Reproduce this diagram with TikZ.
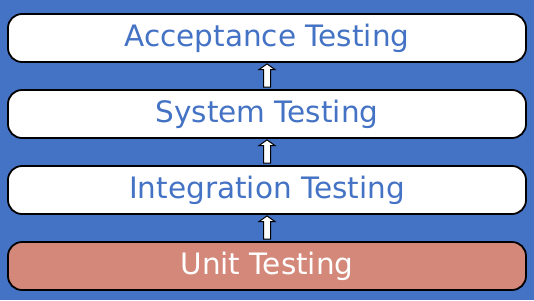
\documentclass[tikz,border=0pt]{standalone}
\usepackage{fontspec}
\setmainfont{DejaVu Sans}
\usetikzlibrary{calc}
\definecolor{bgblue}{HTML}{4472C4}
\definecolor{txtblue}{HTML}{4472C4}
\definecolor{salmon}{HTML}{D4887A}
\tikzset{
  level/.style={draw=black, line width=1.8bp, rounded corners=14bp, fill=white,
    minimum width=518bp, minimum height=48bp, inner sep=0pt,
    font=\fontsize{29.5bp}{35bp}\selectfont, text=txtblue},
  unitlevel/.style={level, fill=salmon, text=white},
}
\newcommand{\uparr}[2]{%
  \draw[fill=white, draw=black, line width=1bp]
    ($(#1.north)+(-3.5bp,2bp)$) -- ($(#1.north)+(-3.5bp,19.5bp)$) -- ($(#1.north)+(-8bp,19.5bp)$)
    -- ($(#2.south)+(0,-1bp)$) -- ($(#1.north)+(8bp,19.5bp)$) -- ($(#1.north)+(3.5bp,19.5bp)$)
    -- ($(#1.north)+(3.5bp,2bp)$) -- cycle;}
\begin{document}
\begin{tikzpicture}[x=1bp,y=-1bp]
\fill[bgblue] (0,0) rectangle (534,300);
\useasboundingbox (0,0) rectangle (534,300);
\node[level] (acc) at (267,38) {Acceptance Testing};
\node[level] (sys) at (267,114) {System Testing};
\node[level] (int) at (267,190) {Integration Testing};
\node[unitlevel] (unit) at (267,266) {Unit Testing};
\uparr{sys}{acc}
\uparr{int}{sys}
\uparr{unit}{int}
\end{tikzpicture}
\end{document}
